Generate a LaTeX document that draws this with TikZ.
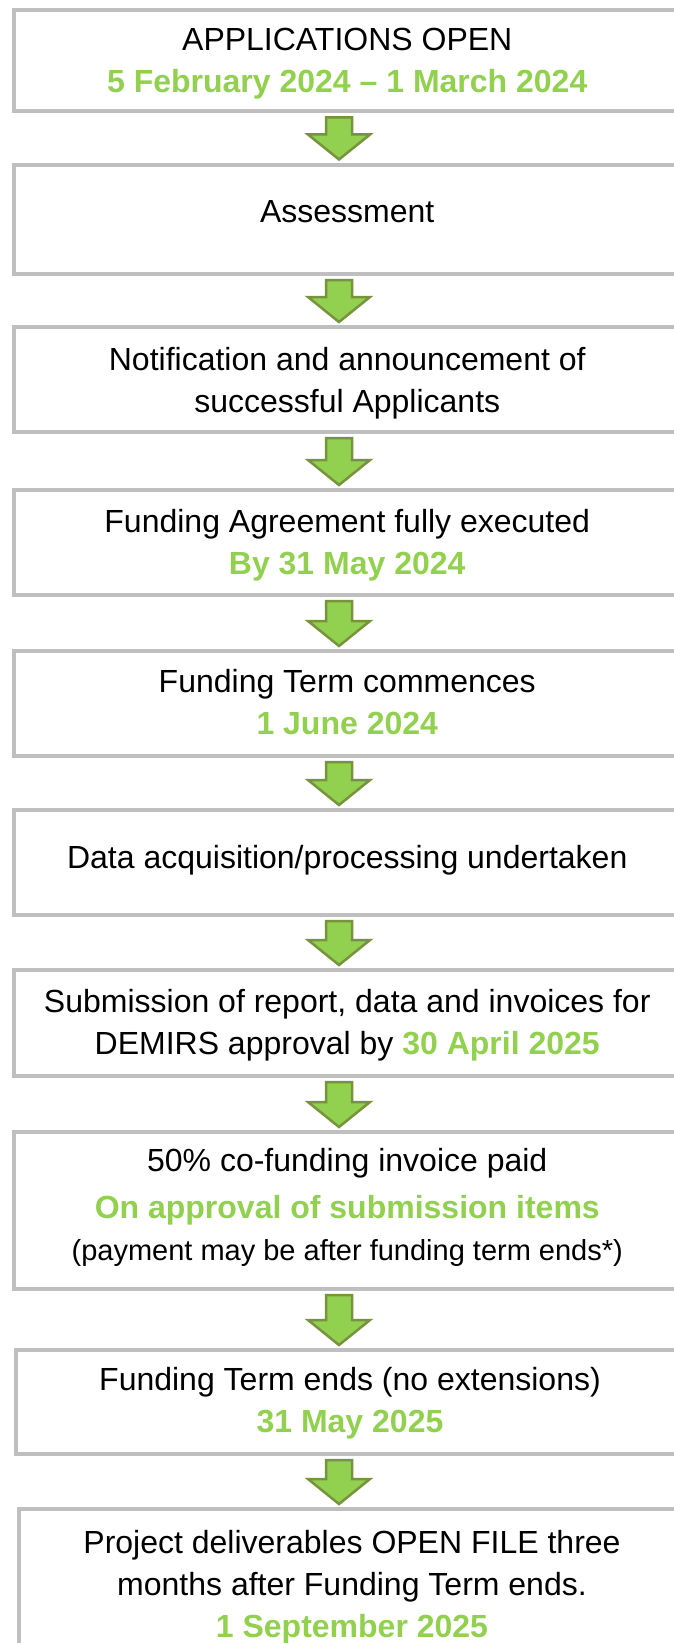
\documentclass[tikz,border=0pt]{standalone}
\usepackage{fontspec}
\setmainfont{Liberation Sans}
\usepackage{tikz}
\usetikzlibrary{calc}
\usepackage{xcolor}
\definecolor{dategreen}{HTML}{92D050}
\definecolor{arrowedge}{HTML}{77933C}
\definecolor{boxgrey}{HTML}{BFBFBF}

\newcommand{\keydate}[1]{\textcolor{dategreen}{\textbf{#1}}}
\newcommand{\stagefont}{\fontsize{32}{42}\selectfont}
\newcommand{\notefont}{\fontsize{29}{40}\selectfont}

% block arrow from one stage box down to the next
\newcommand{\stagearrow}[2]{%
  \draw[flowarrow] let \p1=($(ax |- #1.south)+(0,6)$), \p2=($(ax |- #2.north)+(0,-5)$) in
    (\p2) -- (\x2-31pt,\y2+25pt) -- (\x2-13pt,\y2+25pt) -- (\x2-13pt,\y1)
    -- (\x2+13pt,\y1) -- (\x2+13pt,\y2+25pt) -- (\x2+31pt,\y2+25pt) -- cycle;}

\begin{document}
\begin{tikzpicture}[x=1pt,y=-1pt,
  stagebox/.style={draw=boxgrey,line width=4pt,outer sep=0pt,inner sep=0pt,anchor=north west},
  stagetext/.style={anchor=north,align=center,inner sep=0pt,font=\stagefont},
  flowarrow/.style={draw=arrowedge,fill=dategreen,line width=2.5pt}]

  \useasboundingbox (0,0) rectangle (673,1643);
  \coordinate (ax) at (339,0);

  \node[stagebox,minimum width=667.5,minimum height=101.5] at (13.5,10) (b1) {};
  \node[stagebox,minimum width=667.5,minimum height=109.5] at (13.5,164.5) (b2) {};
  \node[stagebox,minimum width=667.5,minimum height=105] at (13.5,327) (b3) {};
  \node[stagebox,minimum width=667.5,minimum height=105] at (13.5,490) (b4) {};
  \node[stagebox,minimum width=667.5,minimum height=105] at (13.5,651) (b5) {};
  \node[stagebox,minimum width=667.5,minimum height=105] at (13.5,810) (b6) {};
  \node[stagebox,minimum width=667.5,minimum height=106] at (13.5,970) (b7) {};
  \node[stagebox,minimum width=667.5,minimum height=157] at (13.5,1132) (b8) {};
  \node[stagebox,minimum width=669,minimum height=104] at (15.5,1350) (b9) {};
  \node[stagebox,minimum width=667,minimum height=170] at (18.5,1509) (b10) {};

  \node[stagetext] at ([yshift=-18.4pt]b1.north) (t1)
    {APPLICATIONS OPEN\\\keydate{5 February 2024 – 1 March 2024}};
  \node[stagetext] at ([yshift=-35.5pt]b2.north) (t2) {Assessment};
  \node[stagetext] at ([yshift=-20pt]b3.north) (t3)
    {Notification and announcement of\\successful Applicants};
  \node[stagetext] at ([yshift=-18.7pt]b4.north) (t4)
    {Funding Agreement fully executed\\\keydate{By 31 May 2024}};
  \node[stagetext] at ([yshift=-18pt]b5.north) (t5)
    {Funding Term commences\\\keydate{1 June 2024}};
  \node[stagetext] at ([yshift=-35pt]b6.north) (t6)
    {Data acquisition/processing undertaken};
  \node[stagetext] at ([yshift=-18.7pt]b7.north) (t7)
    {Submission of report, data and invoices for\\DEMIRS approval by \keydate{30 April 2025}};
  \node[stagetext] at ([yshift=-16pt]b8.north) (t8)
    {50\% co-funding invoice paid\\[5pt]\keydate{On approval of submission items}\\
     {\notefont (payment may be after funding term ends*)}};
  \node[stagetext] at ([yshift=-17pt]b9.north) (t9)
    {Funding Term ends (no extensions)\\\keydate{31 May 2025}};
  \node[stagetext] at ([yshift=-21pt]b10.north) (t10)
    {Project deliverables OPEN FILE three\\months after Funding Term ends.\\\keydate{1 September 2025}};

  \stagearrow{b1}{b2}
  \stagearrow{b2}{b3}
  \stagearrow{b3}{b4}
  \stagearrow{b4}{b5}
  \stagearrow{b5}{b6}
  \stagearrow{b6}{b7}
  \stagearrow{b7}{b8}
  \stagearrow{b8}{b9}
  \stagearrow{b9}{b10}

\end{tikzpicture}
\end{document}
